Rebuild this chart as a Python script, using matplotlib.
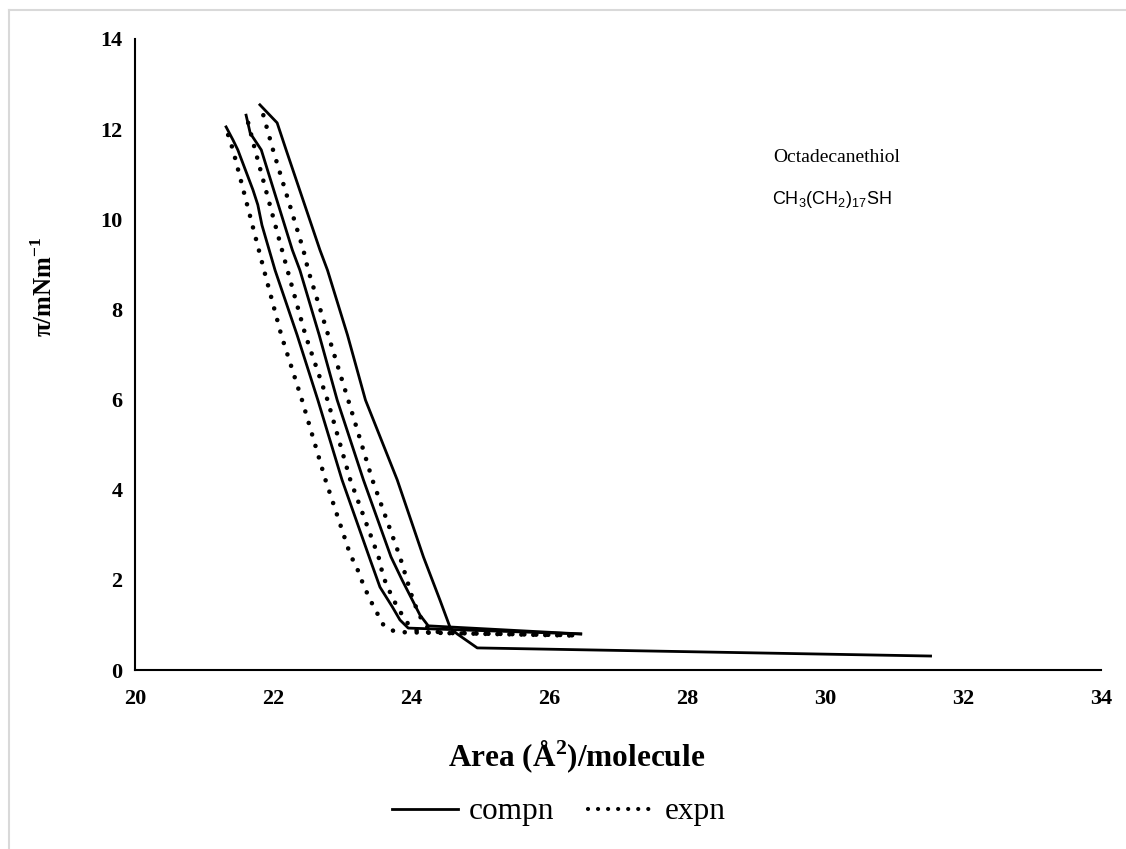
import matplotlib.pyplot as plt
from matplotlib.lines import Line2D

plt.rcParams['font.family'] = 'Liberation Serif'
plt.rcParams['mathtext.fontset'] = 'custom'
plt.rcParams['mathtext.rm'] = 'Liberation Serif'
plt.rcParams['mathtext.bf'] = 'Liberation Serif:bold'
plt.rcParams['mathtext.sf'] = 'Liberation Sans'

# cycle 1 compression (starts at large area)
comp1_x = [31.53, 24.96, 24.67, 24.57, 24.42, 24.18, 23.80, 23.34, 23.08, 22.79, 22.68, 22.19, 22.06, 21.81]
comp1_y = [0.31, 0.49, 0.80, 0.93, 1.55, 2.51, 4.22, 5.99, 7.43, 8.87, 9.32, 11.54, 12.14, 12.54]
# cycle 1 expansion
exp1_x = [21.86, 22.00, 22.44, 22.51, 22.80, 23.09, 23.44, 23.84, 24.03, 24.11, 24.18, 24.28, 24.45, 26.46]
exp1_y = [12.31, 11.54, 9.32, 8.87, 7.43, 5.99, 4.22, 2.51, 1.55, 1.26, 1.04, 0.89, 0.82, 0.76]
# cycle 2
comp2_x = [26.46, 24.25, 24.13, 24.02, 23.87, 23.71, 23.31, 22.93, 22.67, 22.39, 22.28, 21.83, 21.67, 21.61]
comp2_y = [0.80, 0.98, 1.22, 1.55, 2.00, 2.51, 4.22, 5.99, 7.43, 8.87, 9.32, 11.54, 11.91, 12.31]
exp2_x = [21.64, 21.74, 22.13, 22.21, 22.47, 22.79, 23.12, 23.53, 23.60, 23.70, 23.80, 23.89, 23.99, 24.13, 26.46]
exp2_y = [12.14, 11.54, 9.32, 8.87, 7.43, 5.99, 4.22, 2.51, 2.06, 1.71, 1.40, 1.18, 0.95, 0.84, 0.77]
# cycle 3
comp3_x = [26.46, 23.96, 23.84, 23.73, 23.55, 23.41, 23.00, 22.65, 22.35, 22.03, 21.84, 21.78, 21.71, 21.49, 21.42, 21.32]
comp3_y = [0.80, 0.93, 1.11, 1.40, 1.84, 2.44, 4.22, 5.99, 7.43, 8.87, 9.87, 10.32, 10.65, 11.54, 11.76, 12.05]
exp3_x = [21.35, 21.42, 21.87, 22.12, 22.42, 22.76, 23.13, 23.19, 23.31, 23.41, 23.51, 23.60, 23.70, 23.82, 26.46]
exp3_y = [11.87, 11.54, 8.87, 7.43, 5.99, 4.22, 2.51, 2.37, 1.89, 1.55, 1.26, 1.00, 0.89, 0.84, 0.77]

dots = (0, (0.01, 2.6))

fig = plt.figure(figsize=(11.26, 8.49), dpi=100)
ax = fig.add_axes([135/1126, 1 - 670/849, (1101-135)/1126, (670-39)/849])

for cx, cy in [(comp1_x, comp1_y), (comp2_x, comp2_y), (comp3_x, comp3_y)]:
    ax.plot(cx, cy, color='black', lw=2.0, ls='-', solid_joinstyle='round')
for ex, ey in [(exp1_x, exp1_y), (exp2_x, exp2_y), (exp3_x, exp3_y)]:
    ax.plot(ex, ey, color='black', lw=3.3, ls=dots, dash_capstyle='round')

ax.set_xlim(20, 34)
ax.set_ylim(0, 14)
ax.set_xticks(range(20, 35, 2))
ax.set_yticks(range(0, 15, 2))
ax.tick_params(length=0, labelsize=16)
ax.tick_params(axis='x', pad=14)
ax.tick_params(axis='y', pad=9)
for lab in ax.get_xticklabels() + ax.get_yticklabels():
    lab.set_fontweight('bold')
for s in ['top', 'right']:
    ax.spines[s].set_visible(False)
for s in ['left', 'bottom']:
    ax.spines[s].set_linewidth(1.5)

ax.set_xlabel('Area (Å$^{\\mathbf{2}}$)/molecule', fontsize=22.5, fontweight='bold', va='center')
ax.xaxis.set_label_coords((577 - 135) / 966, (670 - 757) / 631)
ax.set_ylabel('π/mNm$^{\\mathbf{-1}}$', fontsize=18, fontweight='bold', va='center')
ax.yaxis.set_label_coords((44 - 135) / 966, (670 - 287) / 631)

ax.text(30.17, 11.36, 'Octadecanethiol', fontsize=14, ha='center', va='center')
ax.text(30.1, 10.43, '$\\mathsf{CH_3(CH_2)_{17}SH}$', fontsize=13, ha='center', va='center')

handles = [Line2D([], [], color='black', lw=2.0),
           Line2D([], [], color='black', lw=3.0, ls=(0, (0.01, 2.4)), dash_capstyle='round')]
fig.legend(handles, ['compn', 'expn'], loc='center', bbox_to_anchor=(559/1126, 1 - 812/849),
           ncol=2, frameon=False, fontsize=22.5, handlelength=2.1, columnspacing=1.1,
           handletextpad=0.35)

# light border of the chart area
fig.add_artist(Line2D([9/1126, 9/1126], [0, 1 - 10/849], color='#d9d9d9', lw=1.5))
fig.add_artist(Line2D([9/1126, 1], [1 - 10/849, 1 - 10/849], color='#d9d9d9', lw=1.5))

fig.savefig('out.png', dpi=100)
